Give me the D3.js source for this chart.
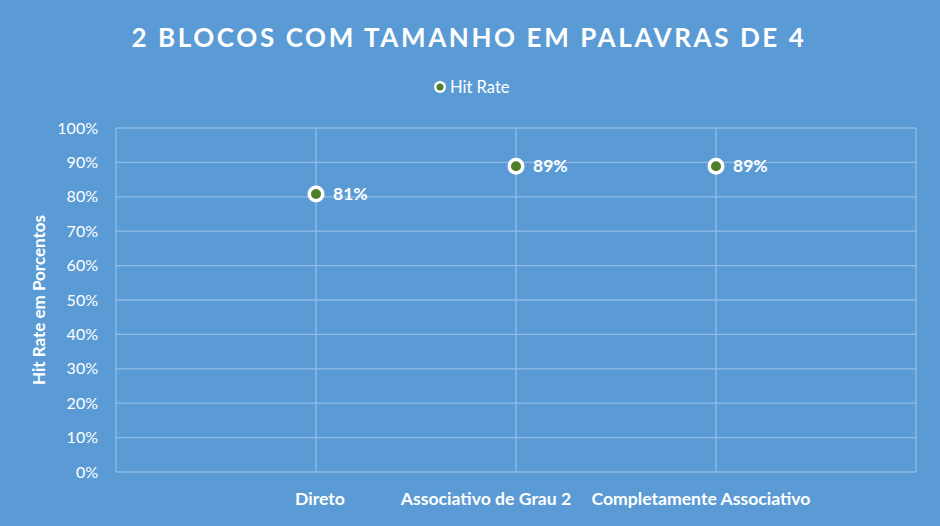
<!DOCTYPE html>
<html><head><meta charset="utf-8">
<script src="https://cdn.jsdelivr.net/npm/d3@7"></script>
<style>html,body{margin:0;padding:0;background:#5B9BD5;}svg{display:block;}</style>
</head><body>
<svg id="c" width="940" height="526"></svg>
<script>
const categories = ["Direto", "Associativo de Grau 2", "Completamente Associativo"];
const hitRate = [0.808, 0.889, 0.889];
const dataLabels = ["81%", "89%", "89%"];
const yTicks = [0, 0.1, 0.2, 0.3, 0.4, 0.5, 0.6, 0.7, 0.8, 0.9, 1.0];
const xGrid = [0, 1, 2, 3, 4];
const labelShift = [4, -30, -15];

const svg = d3.select("#c");
const W = 940, H = 526;
const m = {left:116, right:24, top:128, bottom:54};
const font = "Lato, 'Open Sans', 'Liberation Sans', sans-serif";
svg.append("rect").attr("width",W).attr("height",H).attr("fill","#5B9BD5");

const x = d3.scaleLinear().domain([0,4]).range([m.left, W-m.right]);
const y = d3.scaleLinear().domain([0,1]).range([H-m.bottom, m.top]);
const grid = "#8EBCE6";

svg.append("g").selectAll("line").data(yTicks).join("line")
  .attr("x1", x(0)).attr("x2", x(4))
  .attr("y1", d=>y(d)).attr("y2", d=>y(d))
  .attr("stroke", grid).attr("stroke-width",1.3);
svg.append("g").selectAll("line").data(xGrid).join("line")
  .attr("x1", d=>x(d)).attr("x2", d=>x(d))
  .attr("y1", y(0)).attr("y2", y(1))
  .attr("stroke", grid).attr("stroke-width",1.3);

const yAxis = d3.axisLeft(y).tickValues(yTicks).tickFormat(d3.format(".0%")).tickSize(0).tickPadding(18);
const ya = svg.append("g").attr("transform",`translate(${x(0)},0)`).call(yAxis);
ya.select(".domain").remove();
ya.selectAll("text").attr("fill","#fff").style("font-family",font).style("font-size","16px");

svg.append("g").selectAll("text").data(categories).join("text")
  .attr("x",(d,i)=>x(i+1)+labelShift[i]).attr("y", y(0)+33)
  .attr("text-anchor","middle").attr("fill","#fff")
  .style("font-family",font).style("font-size","17.6px").style("font-weight","bold")
  .text(d=>d);

const pts = svg.append("g").selectAll("g").data(hitRate).join("g");
pts.append("circle").attr("cx",(d,i)=>x(i+1)).attr("cy",d=>y(d)).attr("r",8.5)
  .attr("fill","#fff");
pts.append("circle").attr("cx",(d,i)=>x(i+1)).attr("cy",d=>y(d)).attr("r",5)
  .attr("fill","#4F7F2A");
pts.append("text").attr("x",(d,i)=>x(i+1)+17).attr("y",d=>y(d)+6)
  .attr("fill","#fff").style("font-family",font).style("font-size","17.5px").style("font-weight","bold")
  .text((d,i)=>dataLabels[i]);

svg.append("text").attr("x",469).attr("y",47).attr("text-anchor","middle")
  .attr("fill","#fff").style("font-family",font).style("font-size","26px").style("font-weight","bold")
  .style("letter-spacing","2.6px").text("2 BLOCOS COM TAMANHO EM PALAVRAS DE 4");

svg.append("circle").attr("cx",440).attr("cy",87).attr("r",6).attr("fill","#fff");
svg.append("circle").attr("cx",440).attr("cy",87).attr("r",3.5).attr("fill","#4F7F2A");
svg.append("text").attr("x",450).attr("y",93).attr("fill","#fff")
  .style("font-family",font).style("font-size","16.5px").text("Hit Rate");

svg.append("text").attr("transform",`translate(45,${(y(0)+y(1))/2}) rotate(-90)`)
  .attr("text-anchor","middle").attr("fill","#fff")
  .style("font-family",font).style("font-size","17px").style("font-weight","bold")
  .text("Hit Rate em Porcentos");
</script>
</body></html>
